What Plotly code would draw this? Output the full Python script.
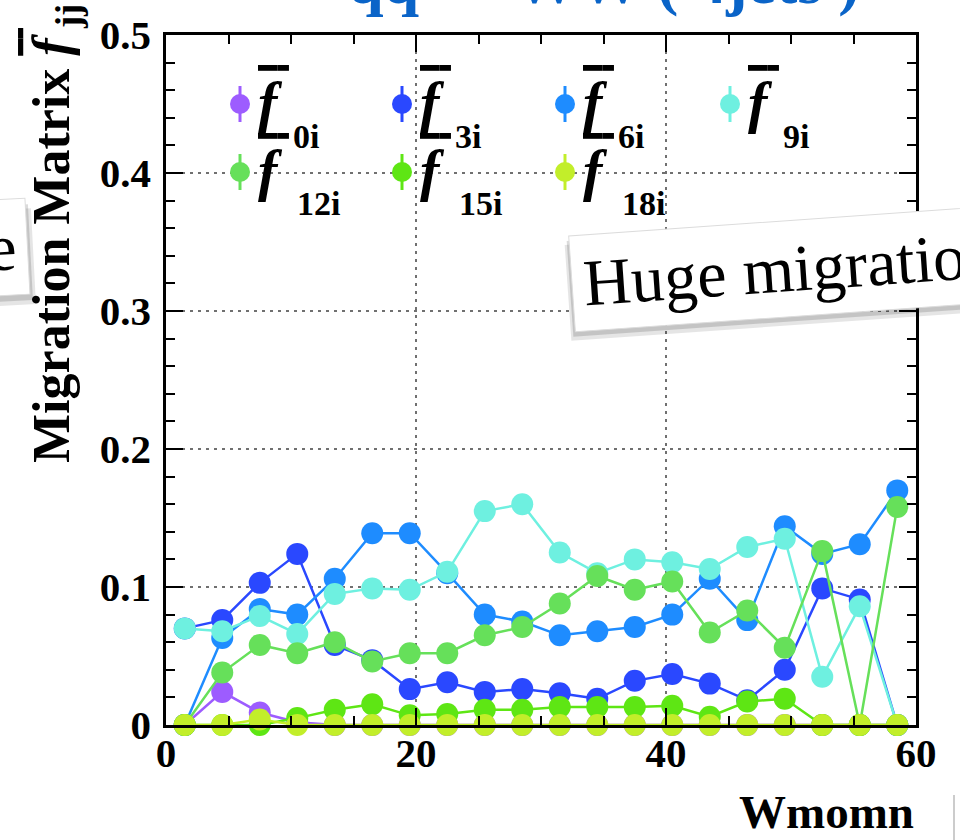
import plotly.graph_objects as go

# Bin centres of the W momentum histogram (3-unit bins from 0 to 60)
wmom_bins = [1.5, 4.5, 7.5, 10.5, 13.5, 16.5, 19.5, 22.5, 25.5, 28.5,
             31.5, 34.5, 37.5, 40.5, 43.5, 46.5, 49.5, 52.5, 55.5, 58.5]

# Migration-matrix rows f_ji for selected reconstructed bins j
f_0i = [0.0, 0.024, 0.009, 0.002, 0.0, 0.0, 0.0, 0.0, 0.0, 0.0,
        0.0, 0.0, 0.0, 0.0, 0.0, 0.0, 0.0, 0.0, 0.0, 0.0]
f_3i = [0.070, 0.076, 0.103, 0.124, 0.058, 0.047, 0.026, 0.031, 0.024, 0.026,
        0.023, 0.019, 0.032, 0.037, 0.030, 0.018, 0.040, 0.099, 0.091, 0.0]
f_6i = [0.0, 0.063, 0.084, 0.080, 0.106, 0.139, 0.139, 0.110, 0.080, 0.075,
        0.065, 0.068, 0.071, 0.080, 0.106, 0.076, 0.144, 0.124, 0.131, 0.170]
f_9i = [0.070, 0.068, 0.079, 0.066, 0.095, 0.099, 0.098, 0.111, 0.155, 0.160,
        0.125, 0.110, 0.120, 0.118, 0.113, 0.129, 0.135, 0.035, 0.086, 0.0]
f_12i = [0.0, 0.038, 0.058, 0.052, 0.060, 0.046, 0.052, 0.052, 0.065, 0.071,
         0.088, 0.108, 0.098, 0.104, 0.067, 0.083, 0.056, 0.126, 0.0, 0.158]
f_15i = [0.0, 0.0, 0.0, 0.005, 0.011, 0.015, 0.007, 0.008, 0.011, 0.011,
         0.013, 0.013, 0.013, 0.014, 0.006, 0.017, 0.019, 0.0, 0.0, 0.0]
f_18i = [0.0, 0.0, 0.004, 0.0, 0.0, 0.0, 0.0, 0.0, 0.0, 0.0,
         0.0, 0.0, 0.0, 0.0, 0.0, 0.0, 0.0, 0.0, 0.0, 0.0]

series_names = ["0i", "3i", "6i", "9i", "12i", "15i", "18i"]
series_values = [f_0i, f_3i, f_6i, f_9i, f_12i, f_15i, f_18i]
series_colors = ["#9d5cff", "#2a48ff", "#1e8cff", "#6ef0e0",
                 "#66e05a", "#5ee614", "#c2ee2a"]

SERIF = "Liberation Serif"

# plot-area geometry in pixels
L, R, T, B = 166, 916, 25, 725
W_PX, H_PX = R - L, B - T


def pxx(p):
    return (p - L) / W_PX


def pxy(p):
    return (B - p) / H_PX


fig = go.Figure()
for name, vals, col in zip(series_names, series_values, series_colors):
    fig.add_trace(go.Scatter(
        x=wmom_bins, y=vals, mode="lines+markers", name=name,
        line=dict(color=col, width=2.5),
        marker=dict(color=col, size=22, line=dict(width=0)),
        cliponaxis=False, showlegend=False,
    ))

axis_common = dict(
    showline=True, linecolor="black", linewidth=2.5, mirror="allticks",
    ticks="inside", tickcolor="black", tickwidth=2,
    showgrid=True, gridcolor="#707070", griddash="3px,5px", gridwidth=2,
    zeroline=False,
    tickfont=dict(family=SERIF, size=41, color="black", weight="bold"),
)

fig.update_xaxes(range=[0, 60], tick0=0, dtick=20, ticklen=17,
                 minor=dict(dtick=5, ticklen=9, tickwidth=2, tickcolor="black",
                            ticks="inside", showgrid=False),
                 ticklabelstandoff=-10, **axis_common)
fig.update_yaxes(range=[0, 0.5], tick0=0, dtick=0.1, ticklen=17,
                 minor=dict(dtick=0.02, ticklen=9, tickwidth=2, tickcolor="black",
                            ticks="inside", showgrid=False),
                 ticklabelstandoff=4, **axis_common)

# italic f carrying a bar, the bar reaching a little past the glyph
FBAR = '<span style="text-decoration:overline"><i>f</i>\u2009</span>'

annotations = []
shapes = []

# title (runs off the top of the page)
annotations.append(dict(
    text="<b>qq → WW ( 4jets )</b>", xref="paper", yref="paper",
    x=pxx(603), y=pxy(-29), xanchor="center", yanchor="middle",
    showarrow=False, font=dict(family=SERIF, size=64, color="#0a64c8"),
))

# y-axis title
annotations.append(dict(
    text="<b>Migration Matrix " + FBAR + "<sub>jj</sub></b>",
    xref="paper", yref="paper", x=pxx(56), y=pxy(-8),
    xanchor="center", yanchor="top", textangle=-90, showarrow=False,
    font=dict(family=SERIF, size=52, color="black"),
))

# x-axis title
annotations.append(dict(
    text="<b>Wmomn</b>", xref="paper", yref="paper", x=pxx(916), y=pxy(813),
    xanchor="right", yanchor="middle", showarrow=False,
    font=dict(family=SERIF, size=47, color="black"),
))

# legend: 4 columns x 2 rows
leg_cols = [240, 402, 565, 730]
leg_rows = [95, 164]
sub_dx = [51, 55]
sub_dy = [33, 32]
for i, (name, col) in enumerate(zip(series_names, series_colors)):
    r, c = divmod(i, 4)
    mx, my = leg_cols[c], leg_rows[r]
    shapes.append(dict(type="line", xref="paper", yref="paper",
                       xsizemode="pixel", ysizemode="pixel",
                       xanchor=pxx(mx), yanchor=pxy(my),
                       x0=0, x1=0, y0=-18, y1=18,
                       line=dict(color=col, width=3)))
    shapes.append(dict(type="circle", xref="paper", yref="paper",
                       xsizemode="pixel", ysizemode="pixel",
                       xanchor=pxx(mx), yanchor=pxy(my),
                       x0=-10, x1=10, y0=-10, y1=10,
                       fillcolor=col, line=dict(width=0)))
    annotations.append(dict(
        text="<b>" + FBAR + "</b>",
        xref="paper", yref="paper", x=pxx(mx + 16), y=pxy(my - 2),
        xanchor="left", yanchor="middle", showarrow=False,
        font=dict(family=SERIF, size=58, color="black"),
    ))
    annotations.append(dict(
        text="<b>" + name + "</b>", xref="paper", yref="paper",
        x=pxx(mx + sub_dx[r]), y=pxy(my + sub_dy[r]),
        xanchor="left", yanchor="middle", showarrow=False,
        font=dict(family=SERIF, size=34, color="black"),
    ))

# call-out boxes with soft drop shadows
BOX_FONT = 66
PAD = 11
HX, HY = 791, 262
for dx, dy, a in [(-4, -9, 0.10), (-2, -5, 0.14)]:
    annotations.append(dict(
        text="Huge migration", xref="paper", yref="paper",
        x=pxx(HX), y=pxy(HY), xanchor="center", yanchor="middle",
        xshift=dx, yshift=dy, textangle=-4, showarrow=False,
        font=dict(family=SERIF, size=BOX_FONT, color="rgba(0,0,0,0)"),
        bgcolor=f"rgba(0,0,0,{a})", borderpad=PAD,
    ))
annotations.append(dict(
    text="Huge migration", xref="paper", yref="paper",
    x=pxx(HX), y=pxy(HY), xanchor="center", yanchor="middle",
    textangle=-4, showarrow=False,
    font=dict(family=SERIF, size=BOX_FONT, color="black"),
    bgcolor="white", bordercolor="#dcdcdc", borderwidth=1, borderpad=PAD,
))
EX, EY = 31, 241
for dx, dy, a in [(6, -10, 0.10), (3, -6, 0.14)]:
    annotations.append(dict(
        text="e", xref="paper", yref="paper",
        x=pxx(EX), y=pxy(EY), xanchor="right", yanchor="middle",
        xshift=dx, yshift=dy, textangle=-3, showarrow=False,
        font=dict(family=SERIF, size=BOX_FONT, color="rgba(0,0,0,0)"),
        bgcolor=f"rgba(0,0,0,{a})", borderpad=PAD,
    ))
annotations.append(dict(
    text="e", xref="paper", yref="paper",
    x=pxx(EX), y=pxy(EY), xanchor="right", yanchor="middle",
    textangle=-3, showarrow=False,
    font=dict(family=SERIF, size=BOX_FONT, color="black"),
    bgcolor="white", bordercolor="#dcdcdc", borderwidth=1, borderpad=PAD,
))

# thin slide edge at bottom right
shapes.append(dict(type="line", xref="paper", yref="paper",
                   x0=pxx(954), x1=pxx(954), y0=pxy(796), y1=pxy(842),
                   line=dict(color="#cccccc", width=2)))

fig.update_layout(
    width=960, height=840,
    margin=dict(l=L, r=960 - R, t=T, b=840 - B),
    paper_bgcolor="white", plot_bgcolor="white",
    annotations=annotations, shapes=shapes,
)

fig.write_html("out.html")
